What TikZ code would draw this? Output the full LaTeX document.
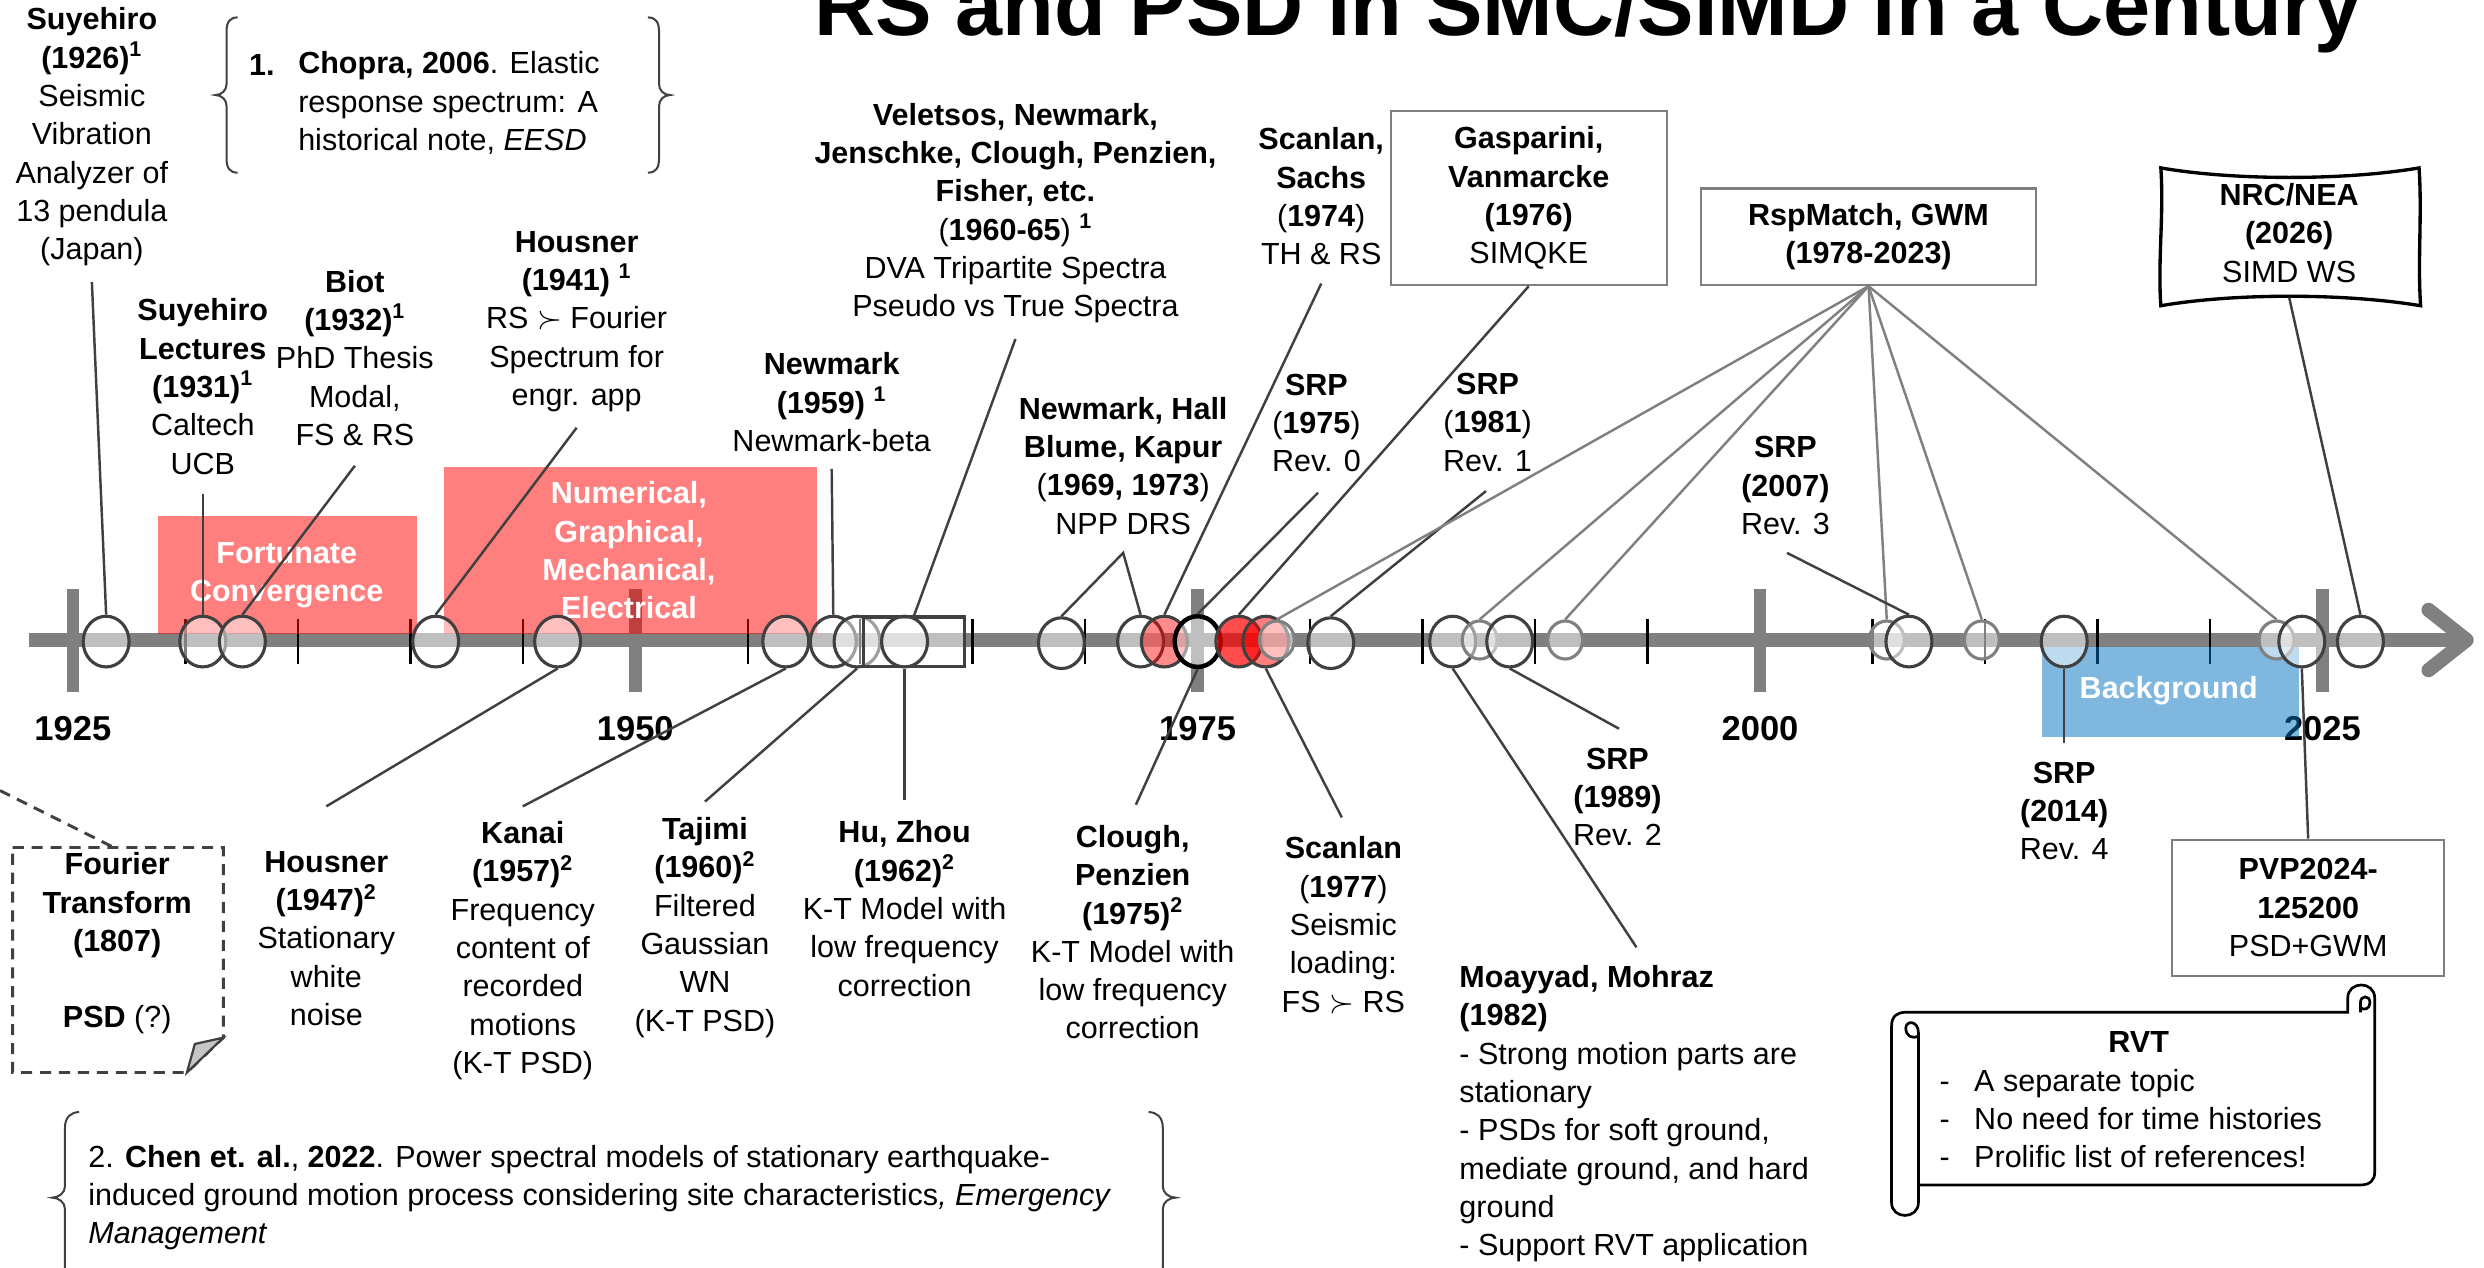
\documentclass[tikz,border=0pt]{standalone}
\usepackage{fontspec}
\setmainfont{Liberation Sans}
\usetikzlibrary{shapes.geometric}
\definecolor{dk}{HTML}{404040}
\definecolor{barc}{HTML}{808080}
\definecolor{gc}{HTML}{808080}
\definecolor{bxc}{HTML}{7F7F7F}
\definecolor{bgblue}{HTML}{0070C0}
\newcommand\fs{\fontsize{13.7}{17.2}\selectfont}
\newcommand\fyr{\fontsize{15.5}{18}\selectfont\bfseries}
\newcommand\sps[1]{\textsuperscript{\textbf{#1}}}
\begin{document}
\begin{tikzpicture}[x=0.025cm,y=-0.025cm,
  txt/.style={font=\fs, align=center, inner sep=0pt},
  ltxt/.style={font=\fs, align=left, inner sep=0pt},
  wtxt/.style={txt, text=white, font=\fs\bfseries},
  circ/.style={ellipse, draw=dk, line width=1.4pt, fill=white, fill opacity=0.5, minimum width=0.725cm, minimum height=0.8cm, inner sep=0pt},
  gcirc/.style={circ, draw=gc, minimum width=0.55cm, minimum height=0.6cm},
  rcirc/.style={circ, fill=red, fill opacity=#1},
  conn/.style={draw=dk, line width=1.1pt},
  gconn/.style={draw=gc, line width=1.1pt},
  tbox/.style={txt, draw=bxc, line width=0.9pt},
  brace/.style={draw=dk, line width=0.9pt},
  fdash/.style={draw=dk, line width=1.3pt, dash pattern=on 5pt off 3.5pt},
]
\useasboundingbox (0,0) rectangle (1568,800);
\clip (0,0) rectangle (1568,800);
\fill[white] (0,0) rectangle (1568,800);

% title
\node[anchor=base west, inner sep=0pt, font=\fontsize{38}{40}\selectfont\bfseries] (title) at (514,22.6) {RS and PSD in SMC/SIMD in a Century};

% timeline bar
\draw[barc, line width=6.4pt] (18,404) -- (1553,404);
\draw[barc, line width=6.4pt, line cap=round, line join=round] (1533,385) -- (1557,404) -- (1533,423);
\foreach \x in {46,401,756,1111,1466} \draw[barc, line width=5.7pt] (\x,372) -- (\x,437);
\foreach \x in {117,188,259,330,472,543,614,685,827,898,969,1040,1182,1253,1324,1395} \draw[black, line width=1.1pt] (\x,391) -- (\x,419);

% year labels
\node[font=\fyr, inner sep=0pt] (y1925) at (46,460) {1925};
\node[font=\fyr, inner sep=0pt] (y1950) at (401,460) {1950};
\node[font=\fyr, inner sep=0pt] (y1975) at (756,460) {1975};
\node[font=\fyr, inner sep=0pt] (y2000) at (1111,460) {2000};
\node[font=\fyr, inner sep=0pt] (y2025) at (1466,460) {2025};

% era rectangles
\fill[red, fill opacity=0.5] (100,326) rectangle (263,400);
\fill[red, fill opacity=0.5] (280,295) rectangle (516,400);
\fill[bgblue, fill opacity=0.5] (1289,408.5) rectangle (1451,465);
\node[wtxt] (fc) at (181,363) {Fortunate\\Convergence};
\node[wtxt] (ngme) at (397,347.5) {Numerical,\\Graphical,\\Mechanical,\\Electrical};
\node[wtxt] (bgt) at (1369,436) {Background};

% circles on the timeline
\node[circ] (c1) at (67,405) {};
\node[circ] (c2) at (128,405) {};
\node[circ] (c3) at (153,405) {};
\node[circ] (c4) at (275,405) {};
\node[circ] (c5) at (352,405) {};
\node[circ] (c6) at (496,405) {};
\node[circ] (c7) at (526,405) {};
\node[circ] (c8) at (541,405) {};
\node[draw=dk, line width=1.4pt, fill=white, fill opacity=0.5, inner sep=0pt, minimum width=1.6cm, minimum height=0.775cm] (vb) at (577,405) {};
\node[circ] (c9) at (571,405) {};
\node[circ] (c10) at (670,406) {};
\node[circ] (c11) at (720,405) {};
\node[rcirc=0.45] (c12) at (735,405) {};
\node[circ, draw=black, line width=2pt] (c13) at (756,405) {};
\node[rcirc=0.7] (c14) at (782,405) {};
\node[rcirc=0.5] (c15) at (799,405) {};
\node[gcirc] (g1) at (806,404) {};
\node[circ] (c16) at (840,406) {};
\node[circ] (c17) at (917,405) {};
\node[gcirc] (g2) at (934,404) {};
\node[circ] (c18) at (953,405) {};
\node[gcirc] (g3) at (988,404) {};
\node[gcirc] (g4) at (1191,404) {};
\node[circ] (c19) at (1205,405) {};
\node[gcirc] (g5) at (1251,404) {};
\node[circ] (c20) at (1303,405) {};
\node[gcirc] (g6) at (1437,404) {};
\node[circ] (c21) at (1453,405) {};
\node[circ] (c22) at (1490,405) {};

% upper texts
\node[txt] (suy) at (58,86.5) {\textbf{Suyehiro}\\\textbf{(1926)}\sps{1}\\Seismic\\Vibration\\Analyzer of\\13 pendula\\(Japan)};
\node[txt] (suyl) at (128,244) {\textbf{Suyehiro}\\\textbf{Lectures}\\\textbf{(1931)}\sps{1}\\Caltech\\UCB};
\node[txt] (biot) at (224,226) {\textbf{Biot}\\\textbf{(1932)}\sps{1}\\PhD Thesis\\Modal,\\FS \& RS};
\node[txt] (h41) at (364,203) {\textbf{Housner}\\\textbf{(1941)} \sps{1}\\RS $\succ$ Fourier\\Spectrum for\\engr. app};
\node[txt] (newm) at (525,254) {\textbf{Newmark}\\\textbf{(1959)} \sps{1}\\Newmark-beta};
\node[txt] (vel) at (641,134.5) {\textbf{Veletsos, Newmark,}\\\textbf{Jenschke, Clough, Penzien,}\\\textbf{Fisher, etc.}\\(\textbf{1960-65}) \sps{1}\\DVA Tripartite Spectra\\Pseudo vs True Spectra};
\node[txt] (npp) at (709,294) {\textbf{Newmark, Hall}\\\textbf{Blume, Kapur}\\(\textbf{1969, 1973})\\NPP DRS};
\node[txt] (scs) at (834,124) {\textbf{Scanlan,}\\\textbf{Sachs}\\(\textbf{1974})\\TH \& RS};
\node[tbox, minimum width=4.35cm, minimum height=2.75cm] (gas) at (965,125) {\textbf{Gasparini,}\\\textbf{Vanmarcke}\\\textbf{(1976)}\\SIMQKE};
\node[txt] (srp75) at (831,267) {\textbf{SRP}\\(\textbf{1975})\\Rev. 0};
\node[txt] (srp81) at (939,266.5) {\textbf{SRP}\\(\textbf{1981})\\Rev. 1};
\node[tbox, minimum width=5.275cm, minimum height=1.525cm] (rsp) at (1179.5,149.5) {\textbf{RspMatch, GWM}\\\textbf{(1978-2023)}};
\node[txt] (srp07) at (1127,306.5) {\textbf{SRP}\\\textbf{(2007)}\\Rev. 3};
\draw[black, line width=1.5pt] (1364,106) .. controls (1410,114) and (1480,114) .. (1527,106) .. controls (1529,135) and (1526,165) .. (1528,193) .. controls (1480,185) and (1410,185) .. (1364,193) .. controls (1362,165) and (1366,135) .. (1364,106) -- cycle;
\node[txt, minimum width=4.075cm, minimum height=2.025cm] (nrc) at (1445,147) {\textbf{NRC/NEA}\\\textbf{(2026)}\\SIMD WS};

% reference 1 with braces
\draw[brace] (150,11) .. controls (145,11) and (143,14) .. (143,20) -- (143,53) .. controls (143,57) and (140,60) .. (136,60) .. controls (140,60) and (143,63) .. (143,67) -- (143,100) .. controls (143,106) and (145,109) .. (150,109);
\draw[brace] (409,11) .. controls (414,11) and (416,14) .. (416,20) -- (416,53) .. controls (416,57) and (419,60) .. (423,60) .. controls (419,60) and (416,63) .. (416,67) -- (416,100) .. controls (416,106) and (414,109) .. (409,109);
\node[ltxt, anchor=west] (chn) at (157,41) {\textbf{1.}};
\node[ltxt, anchor=west] (chop) at (188,65) {\textbf{Chopra, 2006}. Elastic\\response spectrum: A\\historical note, \textit{EESD}};

% lower texts
\draw[fdash] (8,535) -- (141,535) -- (141,655) -- (118,677) -- (8,677) -- cycle;
\filldraw[fill=gray!45, draw=dk, line width=1pt] (141,655) -- (118,677) -- (123,659) -- cycle;
\node[txt] (four) at (74,595.5) {\textbf{Fourier}\\\textbf{Transform}\\\textbf{(1807)}\\[17pt]\textbf{PSD} (?)};
\coordinate (fq) at (0,499);
\coordinate (ftop) at (72,535);
\draw[fdash] (fq) -- (ftop);
\node[txt] (h47) at (206,592.5) {\textbf{Housner}\\\textbf{(1947)}\sps{2}\\Stationary\\white\\noise};
\node[txt] (kan) at (330,600) {\textbf{Kanai}\\\textbf{(1957)}\sps{2}\\Frequency\\content of\\recorded\\motions\\(K-T PSD)};
\node[txt] (taj) at (445,585.5) {\textbf{Tajimi}\\\textbf{(1960)}\sps{2}\\Filtered\\Gaussian\\WN\\(K-T PSD)};
\node[txt] (hz) at (571,573.5) {\textbf{Hu, Zhou}\\\textbf{(1962)}\sps{2}\\K-T Model with\\low frequency\\correction};
\node[txt] (cl) at (715,588.5) {\textbf{Clough,}\\\textbf{Penzien}\\\textbf{(1975)}\sps{2}\\K-T Model with\\low frequency\\correction};
\node[txt] (sc77) at (848,584) {\textbf{Scanlan}\\(\textbf{1977})\\Seismic\\loading:\\FS $\succ$ RS};
\node[ltxt, anchor=west] (moa) at (921,703) {\textbf{Moayyad, Mohraz}\\\textbf{(1982)}\\- Strong motion parts are\\stationary\\- PSDs for soft ground,\\mediate ground, and hard\\ground\\- Support RVT application};
\node[txt] (srp89) at (1021,503) {\textbf{SRP}\\\textbf{(1989)}\\Rev. 2};
\node[txt] (srp14) at (1303,512) {\textbf{SRP}\\\textbf{(2014)}\\Rev. 4};
\node[tbox, minimum width=4.3cm, minimum height=2.15cm] (pvp) at (1457,573) {\textbf{PVP2024-}\\\textbf{125200}\\PSD+GWM};

% RVT scroll
\filldraw[fill=white, draw=black, line width=1.2pt] (1203,639) -- (1482,639) -- (1482,630) .. controls (1482,619) and (1499,619) .. (1499,630) -- (1499,740) .. controls (1499,745) and (1496,748) .. (1490,748) -- (1211,748) -- (1211,759) .. controls (1211,770) and (1194,770) .. (1194,759) -- (1194,648) .. controls (1194,641) and (1198,639) .. (1203,639) -- cycle;
\draw[black, line width=1.2pt] (1211,748) -- (1211,652) .. controls (1211,644) and (1203,644) .. (1203,649) .. controls (1203,654) and (1207,656) .. (1211,654);
\draw[black, line width=1.2pt] (1490,639) -- (1490,633) .. controls (1490,628) and (1496,628) .. (1496,633) .. controls (1496,637) and (1492,638) .. (1490,636);
\node[font=\fs\bfseries, inner sep=0pt] (rvt) at (1350,658) {RVT};
\node[ltxt, anchor=west] (rvtl) at (1224,706) {\makebox[15.6pt][l]{-}A separate topic\\\makebox[15.6pt][l]{-}No need for time histories\\\makebox[15.6pt][l]{-}Prolific list of references!};

% reference 2 with braces
\draw[brace] (50,702) .. controls (45,702) and (41,705) .. (41,712) -- (41,749) .. controls (41,753) and (37,756) .. (33,756) .. controls (37,756) and (41,759) .. (41,763) -- (41,800) .. controls (41,806) and (45,810) .. (50,810);
\draw[brace] (725,702) .. controls (730,702) and (734,705) .. (734,712) -- (734,749) .. controls (734,753) and (738,756) .. (742,756) .. controls (738,756) and (734,759) .. (734,763) -- (734,800) .. controls (734,806) and (730,810) .. (725,810);
\node[ltxt, anchor=west] (chen) at (55.5,756) {2. \textbf{Chen et. al.}, \textbf{2022}. Power spectral models of stationary earthquake-\\induced ground motion process considering site characteristics\textit{, Emergency}\\\textit{Management}};

% connectors (upper)
\coordinate (psuy) at (58,178);
\coordinate (psuyl) at (128,312);
\coordinate (pbiot) at (224,294);
\coordinate (ph41) at (364,270);
\coordinate (pnewm) at (525,296);
\coordinate (pvel) at (641,214);
\coordinate (pnpp) at (709,349);
\coordinate (pscs) at (834,179);
\coordinate (psrp75) at (832,311);
\coordinate (psrp81) at (938,310);
\coordinate (psrp07) at (1128,349);
\draw[conn] (psuy) -- (c1.north);
\draw[conn] (psuyl) -- (c2.north);
\draw[conn] (pbiot) -- (c3.north);
\draw[conn] (ph41) -- (c4.north);
\draw[conn] (pnewm) -- (c7.north);
\draw[conn] (pvel) -- (vb.north);
\draw[conn] (c10.north) -- (pnpp) -- (c11.north);
\draw[conn] (pscs) -- (c12.north);
\draw[conn] (psrp75) -- (c13.north);
\draw[conn] (gas.south) -- (c14.north);
\draw[conn] (psrp81) -- (c16.north);
\foreach \g in {g1,g2,g3,g4,g5,g6} \draw[gconn] (rsp.south) -- (\g.north);
\draw[conn] (psrp07) -- (c19.north);
\draw[conn] (nrc.south) -- (c22.north);

% connectors (lower)
\coordinate (ph47) at (206,509);
\coordinate (pkan) at (330,509);
\coordinate (ptaj) at (445,506);
\coordinate (phz) at (571,505);
\coordinate (pcl) at (717,508);
\coordinate (psc77) at (847,516);
\coordinate (pmoa) at (1033,598);
\coordinate (psrp89) at (1022,460);
\coordinate (psrp14) at (1303,469);
\draw[conn] (ph47) -- (c5.south);
\draw[conn] (pkan) -- (c6.south);
\draw[conn] (ptaj) -- (c8.south);
\draw[conn] (phz) -- (c9.south);
\draw[conn] (pcl) -- (c13.south);
\draw[conn] (psc77) -- (c15.south);
\draw[conn] (pmoa) -- (c17.south);
\draw[conn] (psrp89) -- (c18.south);
\draw[conn] (psrp14) -- (c20.south);
\draw[conn] (pvp.north) -- (c21.south);
\end{tikzpicture}
\end{document}
